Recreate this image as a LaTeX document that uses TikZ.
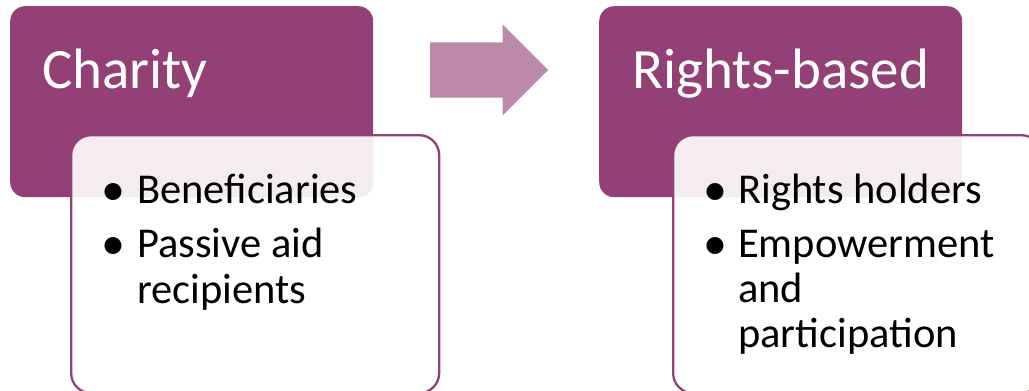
\documentclass[tikz,border=0pt]{standalone}
\usepackage{fontspec}
\setmainfont{Carlito}
\usepackage{xcolor}
\usetikzlibrary{shapes.arrows,positioning}
\definecolor{berry}{RGB}{147,64,119}
\definecolor{berrysoft}{RGB}{189,137,170}
\begin{document}
\begin{tikzpicture}[x=1pt,y=-1pt,
	titlebox/.style={fill=berry, rounded corners=15pt, minimum width=363pt, minimum height=191pt, anchor=north west, inner sep=0pt},
	listbox/.style={draw=berry, line width=2.3pt, fill=white, fill opacity=0.9, rounded corners=20pt, minimum width=368pt, minimum height=258pt, anchor=north west, inner sep=0pt},
	title/.style={text=white, font=\fontsize{57}{60}\selectfont, anchor=base west, inner sep=0pt},
	item/.style={font=\fontsize{42.5}{46}\selectfont, anchor=base west, inner sep=0pt},
	dot/.style={font=\fontsize{48}{46}\selectfont, anchor=base, inner sep=0pt}]
	\useasboundingbox (0,0) rectangle (1029,391);
	\clip (0,0) rectangle (1029,391);
	% Charity
	\node (charitybox) [titlebox] at (10,6) {};
	\node (charity) [title] at ([shift={(32,82)}]charitybox.north west) {Charity};
	\node (charitylist) [listbox] at (70,134) {};
	\node (c1dot) [dot] at ([shift={(43,71)}]charitylist.north west) {•};
	\node (c1) [item] at ([shift={(67,69)}]charitylist.north west) {Beneficiaries};
	\node (c2dot) [dot] at ([shift={(43,125)}]charitylist.north west) {•};
	\node (c2) [item] at ([shift={(67,123)}]charitylist.north west) {Passive aid};
	\node (c3) [item] at ([shift={(67,169)}]charitylist.north west) {recipients};
	% Mũi tên
	\node (shift) [single arrow, fill=berrysoft, inner xsep=0pt, inner ysep=27.5pt, single arrow head extend=18pt, minimum height=118pt, anchor=west] at (430,70) {};
	% Rights-based
	\node (rightsbox) [titlebox] at (599,6) {};
	\node (rights) [title] at ([shift={(33,82)}]rightsbox.north west) {Rights-based};
	\node (rightslist) [listbox] at (672,134) {};
	\node (r1dot) [dot] at ([shift={(43,71)}]rightslist.north west) {•};
	\node (r1) [item] at ([shift={(66,69)}]rightslist.north west) {Rights holders};
	\node (r2dot) [dot] at ([shift={(43,125)}]rightslist.north west) {•};
	\node (r2) [item] at ([shift={(66,123)}]rightslist.north west) {Empowerment};
	\node (r3) [item] at ([shift={(66,168)}]rightslist.north west) {and};
	\node (r4) [item] at ([shift={(66,213)}]rightslist.north west) {participation};
\end{tikzpicture}
\end{document}
